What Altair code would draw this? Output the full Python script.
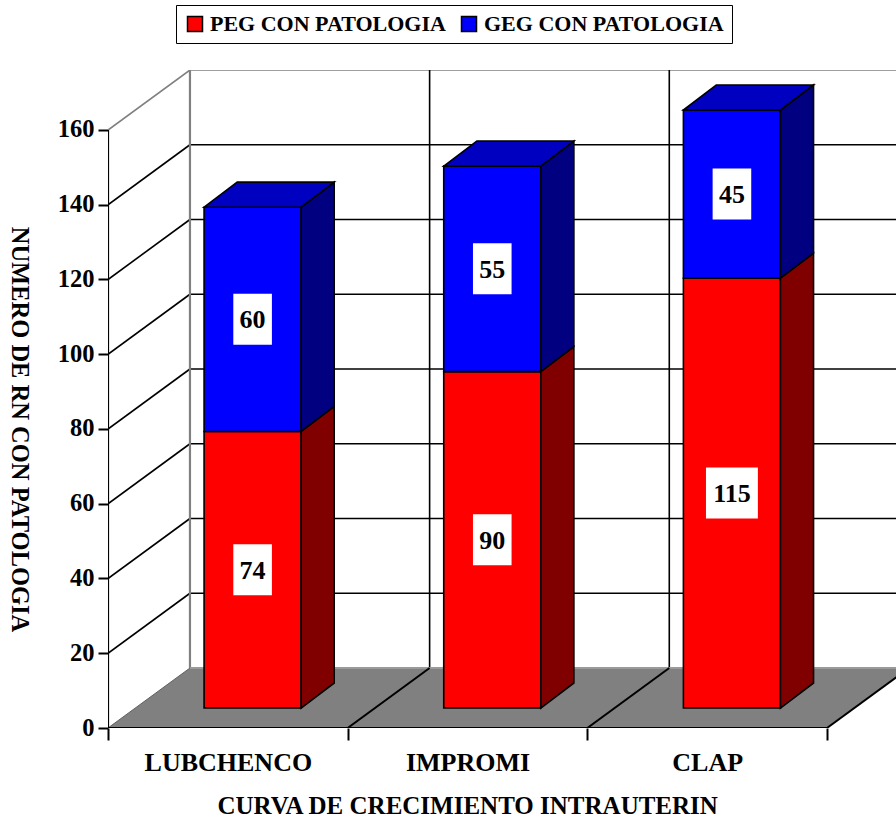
import altair as alt
import pandas as pd

# ---- chart values -------------------------------------------------------
categories = ["LUBCHENCO", "IMPROMI", "CLAP"]
peg_values = [74, 90, 115]          # PEG con patologia (bottom segment)
geg_values = [60, 55, 45]           # GEG con patologia (top segment)
series_names = ["PEG CON PATOLOGIA", "GEG CON PATOLOGIA"]
y_ticks = [0, 20, 40, 60, 80, 100, 120, 140, 160]

# ---- oblique 3-D projection, expressed in data units ---------------------
X_MAX = 3.288        # right end of the x scale (category units)
Y_MAX = 176.05       # top of the y scale (value units, includes wall depth)
WALL_DX = 0.342      # horizontal shift from front plane to back wall
WALL_DY = 16.05      # vertical shift from front plane to back wall
BAR_FRONT = 0.333    # depth fraction where the bar front face sits
BAR_DX = 0.138       # bar depth, horizontal component
BAR_DY = 6.7         # bar depth, vertical component
BAR_LEFT = 0.287     # bar left edge inside its category slot
BAR_W = 0.405        # bar front-face width

FONT = "Liberation Serif"
FRONT = {"PEG CON PATOLOGIA": "#FF0000", "GEG CON PATOLOGIA": "#0000FF"}
SIDE = {"PEG CON PATOLOGIA": "#800000", "GEG CON PATOLOGIA": "#000080"}
TOP = {"PEG CON PATOLOGIA": "#C00000", "GEG CON PATOLOGIA": "#0000C0"}
GRID = "#000000"
EDGE = "#808080"

# ---- build geometry tables from the values --------------------------------
fronts, sides, tops, labels = [], [], [], []
x_shift = BAR_FRONT * WALL_DX
y_base = BAR_FRONT * WALL_DY
for i, cat in enumerate(categories):
    segments = [(series_names[0], 0, peg_values[i]),
                (series_names[1], peg_values[i], peg_values[i] + geg_values[i])]
    xl = i + BAR_LEFT + x_shift
    xr = xl + BAR_W
    for s, lo, hi in segments:
        yb, yt = y_base + lo, y_base + hi
        fronts.append({"serie": s, "x": xl, "x2": xr, "y": yb, "y2": yt})
        face = f"{cat}-{s}"
        sides.append({"face": face, "fill": SIDE[s], "x": xr, "y": yb, "y2": yt})
        sides.append({"face": face, "fill": SIDE[s], "x": xr + BAR_DX,
                      "y": yb + BAR_DY, "y2": yt + BAR_DY})
        val = hi - lo
        txt = str(val)
        half_w = (len(txt) * 13.3 + 12) / 51.0
        labels.append({"x": (xl + xr) / 2, "y": (yb + yt) / 2, "text": txt,
                       "shape": f"M{-half_w},-1H{half_w}V1H{-half_w}Z"})
    # top face of the stacked bar
    s = series_names[1]
    yt = y_base + peg_values[i] + geg_values[i]
    face = f"{cat}-top"
    tops.append({"face": face, "fill": TOP[s], "y": yt, "x": xl, "x2": xr})
    tops.append({"face": face, "fill": TOP[s], "y": yt + BAR_DY,
                 "x": xl + BAR_DX, "x2": xr + BAR_DX})

floor = pd.DataFrame([
    {"face": "floor", "y": 0, "x": 0, "x2": len(categories)},
    {"face": "floor", "y": WALL_DY, "x": WALL_DX, "x2": len(categories) + WALL_DX},
])

rules = []
# back wall horizontal gridlines and side wall diagonals
for v in y_ticks[1:]:
    col = EDGE if v == y_ticks[-1] else GRID
    rules.append({"x": WALL_DX, "x2": X_MAX + 1, "y": v + WALL_DY, "y2": v + WALL_DY,
                  "color": col, "w": 1.6})
    rules.append({"x": 0, "x2": WALL_DX, "y": v, "y2": v + WALL_DY, "color": col, "w": 1.6})
# back wall verticals
for k in range(len(categories)):
    col = EDGE if k == 0 else GRID
    rules.append({"x": k + WALL_DX, "x2": k + WALL_DX, "y": WALL_DY,
                  "y2": y_ticks[-1] + WALL_DY, "color": col, "w": 1.6 if k else 2.2})
# floor edges
rules.append({"x": WALL_DX, "x2": X_MAX + 1, "y": WALL_DY, "y2": WALL_DY,
              "color": "#9a9a9a", "w": 2})
rules.append({"x": 0, "x2": WALL_DX, "y": 0, "y2": WALL_DY, "color": "#606060", "w": 1})
for k in range(1, len(categories) + 1):
    rules.append({"x": k, "x2": k + WALL_DX, "y": 0, "y2": WALL_DY, "color": GRID, "w": 2})
# front axis lines
rules.append({"x": 0, "x2": len(categories), "y": 0, "y2": 0, "color": GRID, "w": 2.2})
rules.append({"x": 0, "x2": 0, "y": 0, "y2": y_ticks[-1], "color": GRID, "w": 2.2})

# ---- scales & axes --------------------------------------------------------
xs = alt.Scale(domain=[0, X_MAX], nice=False, zero=False)
ys = alt.Scale(domain=[0, Y_MAX], nice=False, zero=False)

cat_list = "[" + ",".join(f"'{c}'" for c in categories) + "]"
x_axis = alt.Axis(
    values=[k / 2 for k in range(2 * len(categories) + 1)],
    labelExpr=f"datum.value % 1 == 0.5 ? {cat_list}[floor(datum.value)] : ''",
    domain=False, grid=False,
    tickSize=12, tickWidth=2, tickColor="black",
    tickOpacity={"condition": {"test": "datum.value % 1 == 0.5", "value": 0}, "value": 1},
    labelFont=FONT, labelFontSize=26, labelFontWeight="bold", labelColor="black",
    labelPadding=9, labelBaseline="top", labelOverlap=False, labelFlush=False,
    labelLimit=400,
    title="CURVA DE CRECIMIENTO INTRAUTERIN",
    titleFont=FONT, titleFontSize=25, titleFontWeight="bold", titleColor="black",
    titleX=109, titleY=85, titleAlign="left", titleBaseline="alphabetic",
    titleLimit=1000,
)
y_axis = alt.Axis(
    values=y_ticks, domain=False, grid=False,
    tickSize=10, tickWidth=2, tickColor="black",
    labelFont=FONT, labelFontSize=24.5, labelFontWeight="bold", labelColor="black",
    labelPadding=4, labelOverlap=False, labelFlush=False,
    title="NUMERO DE RN CON PATOLOGIA",
    titleFont=FONT, titleFontSize=24.5, titleFontWeight="bold", titleColor="black",
    titleAngle=90, titleX=-90, titleY=359, titleAlign="center", titleBaseline="middle",
    titleLimit=1000,
)


def X(field="x"):
    return alt.X(f"{field}:Q", scale=xs, axis=x_axis)


def Y(field="y"):
    return alt.Y(f"{field}:Q", scale=ys, axis=y_axis)


# ---- layers ---------------------------------------------------------------
floor_layer = alt.Chart(floor).mark_area(
    orient="horizontal", color="#808080", clip=True
).encode(y=Y(), x=X(), x2="x2:Q", detail="face:N")

rule_layer = alt.Chart(pd.DataFrame(rules)).mark_rule(clip=True).encode(
    x=X(), x2="x2:Q", y=Y(), y2="y2:Q",
    color=alt.Color("color:N", scale=None),
    size=alt.Size("w:Q", scale=None),
)

front_layer = alt.Chart(pd.DataFrame(fronts)).mark_rect(
    stroke="black", strokeWidth=1.6, opacity=1
).encode(
    x=X(), x2="x2:Q", y=Y(), y2="y2:Q",
    color=alt.Color(
        "serie:N",
        scale=alt.Scale(domain=series_names, range=[FRONT[s] for s in series_names]),
        title=None,
        legend=alt.Legend(
            orient="none", legendX=68, legendY=-65, direction="horizontal",
            strokeColor="black", fillColor="white", padding=8,
            symbolType="square", symbolSize=225, symbolStrokeColor="black",
            symbolStrokeWidth=1.5, symbolOpacity=1,
            labelFont=FONT, labelFontSize=22, labelFontWeight="bold",
            labelColor="black", labelLimit=500, labelOffset=4, columnPadding=12,
        ),
    ),
)

side_layer = alt.Chart(pd.DataFrame(sides)).mark_area(
    stroke="black", strokeWidth=1.6, opacity=1
).encode(
    x=X(), y=Y(), y2="y2:Q", detail="face:N",
    fill=alt.Fill("fill:N", scale=None),
)

top_layer = alt.Chart(pd.DataFrame(tops)).mark_area(
    orient="horizontal", stroke="black", strokeWidth=1.6, opacity=1
).encode(
    y=Y(), x=X(), x2="x2:Q", detail="face:N",
    fill=alt.Fill("fill:N", scale=None),
)

label_df = pd.DataFrame(labels)
box_layer = alt.Chart(label_df).mark_point(
    filled=True, color="white", opacity=1, strokeWidth=0, size=2601
).encode(x=X(), y=Y(), shape=alt.Shape("shape:N", scale=None))

text_layer = alt.Chart(label_df).mark_text(
    font=FONT, fontSize=26, fontWeight="bold", color="black",
    align="center", baseline="middle", dy=1
).encode(x=X(), y=Y(), text="text:N")

chart = alt.layer(
    floor_layer, rule_layer, front_layer, side_layer, top_layer, box_layer, text_layer
).properties(
    width=788, height=658,
    padding={"left": 108, "top": 70, "right": 0, "bottom": 91},
    autosize=alt.AutoSizeParams(type="none"),
    background="white",
).configure_view(stroke=None)

chart.save("out.html", embed_options={"renderer": "svg", "actions": False})
